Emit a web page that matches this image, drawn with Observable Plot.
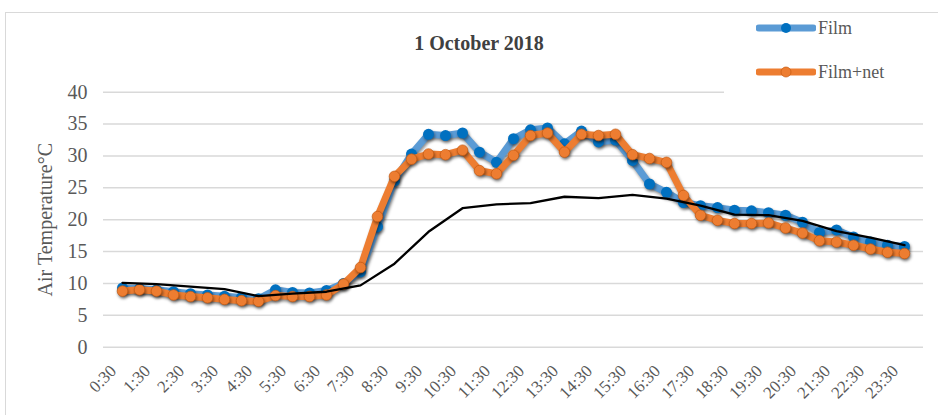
<!DOCTYPE html>
<html><head><meta charset="utf-8">
<script src="https://cdn.jsdelivr.net/npm/d3@7"></script>
<script src="https://cdn.jsdelivr.net/npm/@observablehq/plot@0.6"></script>
<style>
body{margin:0;background:#fff;font-family:"Liberation Serif","DejaVu Serif",serif;}
#wrap{position:relative;width:938px;height:415px;overflow:hidden;background:#fff;}
#frame{position:absolute;left:5px;top:12px;width:1000px;height:500px;border:1px solid #d9d9d9;}
#chart{position:absolute;left:0;top:0;}
#title{position:absolute;left:0;width:958px;top:32px;text-align:center;font-weight:bold;font-size:20px;color:#404040;}
#legend{position:absolute;left:724px;top:14px;width:214px;height:82px;background:#fff;}
.item{position:absolute;left:32px;height:22px;display:flex;align-items:center;font-size:18px;color:#595959;}
.item svg{margin-right:2px;}
</style></head>
<body>
<div id="wrap">
  <div id="frame"></div>
  <div id="chart"></div>
  <div id="title">1 October 2018</div>
  <div id="legend">
    <div class="item" style="top:3px"><svg width="60" height="14"><line x1="3" x2="57" y1="7" y2="7" stroke="#5b9bd5" stroke-width="7" stroke-linecap="round"/><circle cx="30" cy="7" r="5" fill="#0070c0"/></svg>Film</div>
    <div class="item" style="top:47px"><svg width="60" height="14"><line x1="3" x2="57" y1="7" y2="7" stroke="#ed7d31" stroke-width="7" stroke-linecap="round"/><circle cx="30" cy="7" r="5" fill="#ed7d31" stroke="#c55a11" stroke-width="0.7"/></svg>Film+net</div>
  </div>
</div>
<script>
const times = ["0:30","1:00","1:30","2:00","2:30","3:00","3:30","4:00","4:30","5:00","5:30","6:00","6:30","7:00","7:30","8:00","8:30","9:00","9:30","10:00","10:30","11:00","11:30","12:00","12:30","13:00","13:30","14:00","14:30","15:00","15:30","16:00","16:30","17:00","17:30","18:00","18:30","19:00","19:30","20:00","20:30","21:00","21:30","22:00","22:30","23:00","23:30"];
const hourLabels = ["0:30","1:30","2:30","3:30","4:30","5:30","6:30","7:30","8:30","9:30","10:30","11:30","12:30","13:30","14:30","15:30","16:30","17:30","18:30","19:30","20:30","21:30","22:30","23:30"];
const film = [9.3,9.2,9.0,8.7,8.4,8.2,8.0,7.8,7.6,9.0,8.6,8.5,8.9,10.0,11.8,18.9,26.1,30.3,33.4,33.2,33.6,30.6,29.0,32.7,34.1,34.4,31.9,33.9,32.2,32.5,29.3,25.6,24.3,22.7,22.2,21.9,21.5,21.4,21.1,20.7,19.6,18.0,18.4,17.3,16.5,16.0,15.8];
const filmNet = [8.8,9.0,8.8,8.2,7.95,7.75,7.5,7.3,7.2,8.1,7.95,7.95,8.2,9.9,12.5,20.5,26.8,29.5,30.3,30.2,30.9,27.7,27.2,30.1,33.2,33.6,30.6,33.4,33.2,33.4,30.2,29.6,29.0,23.8,20.7,19.9,19.4,19.4,19.5,18.7,17.9,16.7,16.5,16.0,15.4,14.9,14.7];
const outside = [10.1,9.9,9.5,9.1,8.0,8.4,8.7,9.7,13.1,18.1,21.8,22.4,22.6,23.6,23.4,23.9,23.3,22.2,20.8,20.7,19.8,18.2,17.2,16.0];
const yTicks = [0,5,10,15,20,25,30,35,40];
const yTitle = "Air Temperature°C";

const filmData = times.map((t,i)=>({t, v:film[i]}));
const netData = times.map((t,i)=>({t, v:filmNet[i]}));
const outData = hourLabels.map((t,i)=>({t, v:outside[i]}));

const svg = Plot.plot({
  width:938, height:415,
  marginLeft:103, marginRight:15, marginTop:91.7, marginBottom:68.3,
  style:{fontFamily:"'Liberation Serif', serif", color:"#595959", background:"transparent", overflow:"visible"},
  x:{type:"point", domain:times, padding:0.5},
  y:{domain:[0,40]},
  marks:[
    Plot.gridY(yTicks, {stroke:"#d9d9d9", strokeOpacity:1, strokeWidth:1.5}),
    Plot.axisY(yTicks, {tickSize:0, tickPadding:16, fontSize:20, label:null}),
    Plot.text([yTitle], {frameAnchor:"left", textAnchor:"middle", rotate:-90, dx:-58, fontSize:20, fill:"#595959"}),
    Plot.axisX(hourLabels, {tickSize:0, tickPadding:21, tickRotate:-45, fontSize:17, label:null, dx:-9, fill:"#595959"}),
    Plot.line(filmData, {x:"t", y:"v", stroke:"#5b9bd5", strokeWidth:7}),
    Plot.dot(filmData, {x:"t", y:"v", r:5.5, fill:"#0070c0"}),
    Plot.line(netData, {x:"t", y:"v", stroke:"#ed7d31", strokeWidth:7}),
    Plot.dot(netData, {x:"t", y:"v", r:5.3, fill:"#ed7d31", stroke:"#c55a11", strokeWidth:0.7}),
    Plot.line(outData, {x:"t", y:"v", stroke:"#000", strokeWidth:2.3})
  ]
});
const gs = svg.querySelectorAll('g[aria-label="line"], g[aria-label="dot"]');
for (let i=0;i<4 && i<gs.length;i++) gs[i].style.filter = "drop-shadow(1px 2px 1.5px rgba(0,0,0,0.45))";
document.getElementById("chart").appendChild(svg);
</script>
</body></html>
